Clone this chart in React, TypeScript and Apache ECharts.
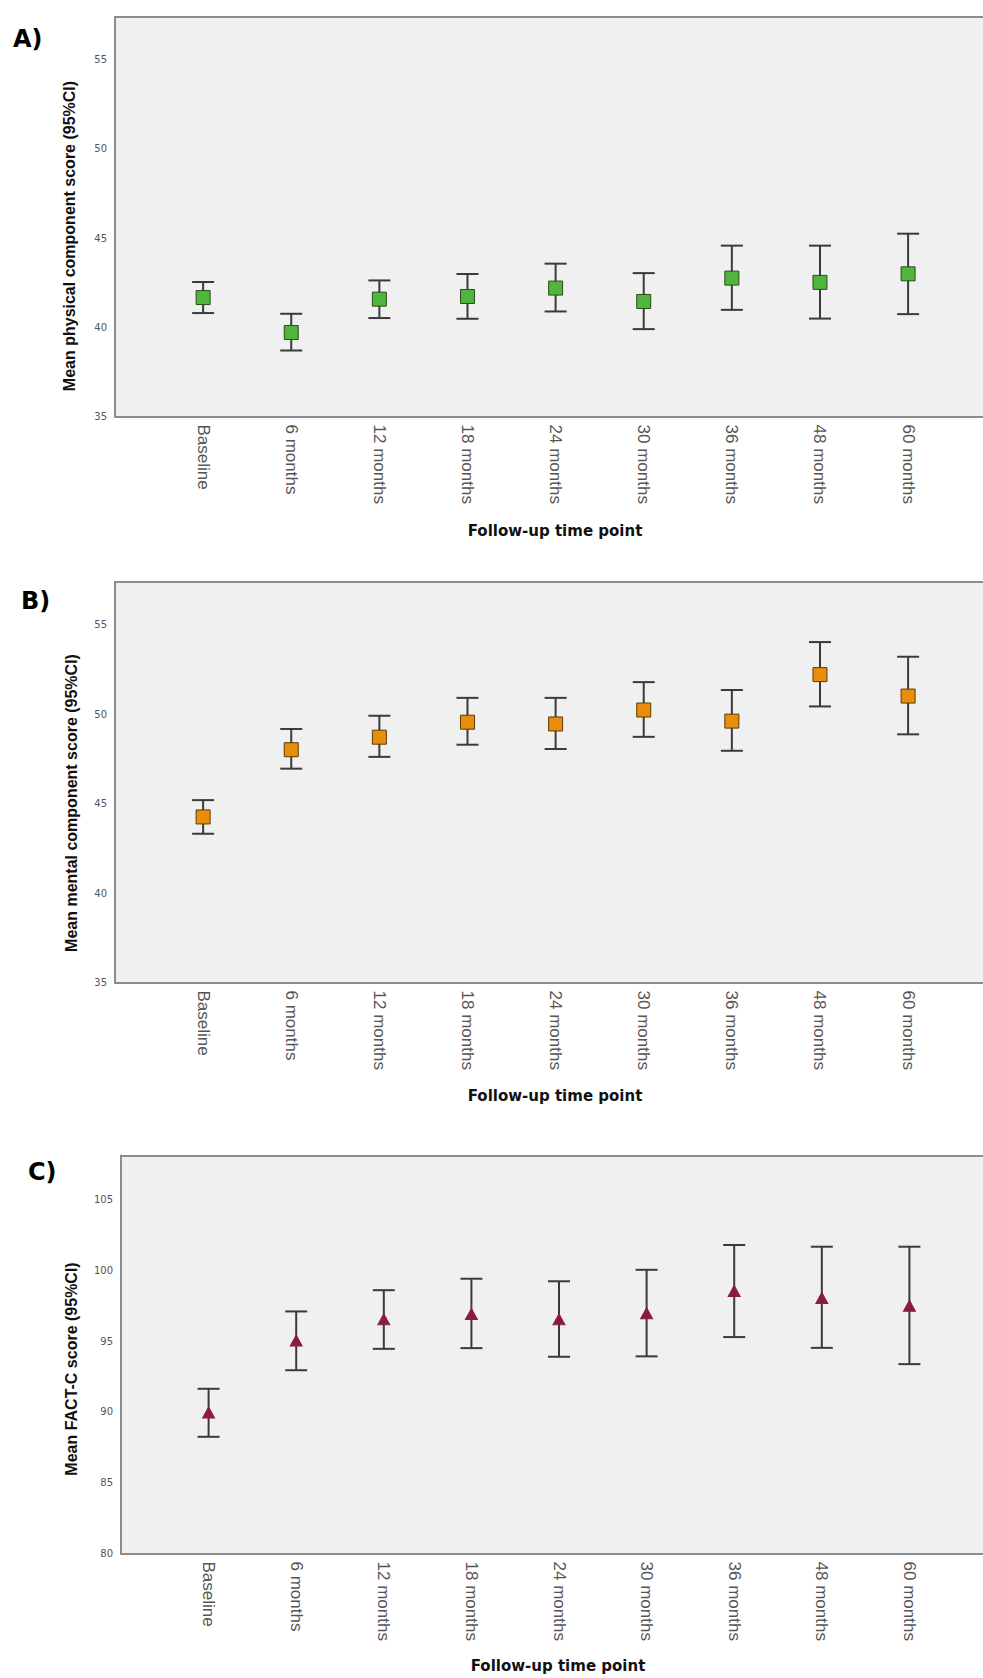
import React, { useEffect, useRef } from "react";
import * as echarts from "echarts";

const categories = ["Baseline", "6 months", "12 months", "18 months", "24 months", "30 months", "36 months", "48 months", "60 months"];

const pcsMean = [41.67, 39.71, 41.58, 41.73, 42.2, 41.45, 42.76, 42.52, 43.0];
const pcsLow = [40.8, 38.7, 40.52, 40.48, 40.89, 39.9, 40.98, 40.49, 40.74];
const pcsHigh = [42.54, 40.76, 42.63, 42.99, 43.57, 43.04, 44.58, 44.58, 45.25];

const mcsMean = [44.26, 48.02, 48.72, 49.56, 49.46, 50.24, 49.62, 52.22, 51.02];
const mcsLow = [43.32, 46.96, 47.62, 48.3, 48.06, 48.74, 47.96, 50.44, 48.88];
const mcsHigh = [45.2, 49.18, 49.92, 50.92, 50.92, 51.8, 51.36, 54.04, 53.22];

const factMean = [89.95, 95.03, 96.53, 96.91, 96.53, 96.96, 98.54, 98.04, 97.49];
const factLow = [88.24, 92.94, 94.45, 94.5, 93.89, 93.92, 95.28, 94.52, 93.37];
const factHigh = [91.63, 97.09, 98.59, 99.4, 99.22, 100.03, 101.78, 101.66, 101.66];

const yTitles = ["Mean physical component score (95%CI)", "Mean mental component score (95%CI)", "Mean FACT-C score (95%CI)"];
const panelLabels = ["A)", "B)", "C)"];
const xTitle = "Follow-up time point";

export default function App() {
  const ref = useRef<HTMLDivElement>(null);
  useEffect(() => {
    if (!ref.current) return;
    const chart = echarts.init(ref.current, null, { renderer: "svg" });

    const panels = [
      { left: 115, top: 17, height: 399.5, xmax: 9.85, ymin: 35, ymax: 57.4, mean: pcsMean, low: pcsLow, high: pcsHigh, symbol: "rect", size: [14, 14], color: "#4fb53c", border: "#2b4d1c" },
      { left: 115, top: 582, height: 400.5, xmax: 9.85, ymin: 35, ymax: 57.4, mean: mcsMean, low: mcsLow, high: mcsHigh, symbol: "rect", size: [14, 14], color: "#e88d0c", border: "#5c3b00" },
      { left: 121, top: 1155.5, height: 398, xmax: 9.84, ymin: 80, ymax: 108.1, mean: factMean, low: factLow, high: factHigh, symbol: "triangle", size: [12, 11], color: "#8c1c3c", border: "#8c1c3c" },
    ];

    const axisLineStyle = { color: "#8c8c8c", width: 2 };
    const grid: any[] = [];
    const xAxis: any[] = [];
    const yAxis: any[] = [];
    const series: any[] = [];

    panels.forEach((p, g) => {
      grid.push({ left: p.left, top: p.top, height: p.height, right: 0, show: true, backgroundColor: "#f0f0f0", borderWidth: 0 });
      xAxis.push({
        gridIndex: g, type: "value", position: "bottom", min: 0, max: p.xmax, interval: 1,
        axisLine: { show: true, lineStyle: axisLineStyle }, axisTick: { show: false }, splitLine: { show: false },
        axisLabel: {
          rotate: -90, fontSize: 17, color: "#555", fontFamily: "Liberation Sans", margin: 8,
          formatter: (v: number) => (Number.isInteger(v) && v >= 1 && v <= categories.length ? categories[v - 1] : ""),
        },
      });
      xAxis.push({
        gridIndex: g, type: "value", position: "top", min: 0, max: p.xmax,
        axisLine: { show: true, lineStyle: axisLineStyle }, axisTick: { show: false }, splitLine: { show: false }, axisLabel: { show: false },
      });
      yAxis.push({
        gridIndex: g, type: "value", min: p.ymin, max: p.ymax, interval: 5,
        axisLine: { show: true, lineStyle: axisLineStyle }, axisTick: { show: false }, splitLine: { show: false },
        axisLabel: {
          fontSize: 10, color: "#555", fontFamily: "DejaVu Sans", margin: 8,
          formatter: (v: number) => (Math.abs(v % 5) < 1e-6 ? String(v) : ""),
        },
      });
      series.push({
        type: "custom", xAxisIndex: g * 2, yAxisIndex: g, coordinateSystem: "cartesian2d", z: 2,
        data: categories.map((_, i) => [i + 1, p.low[i], p.high[i]]),
        encode: { x: 0, y: [1, 2] },
        renderItem: (params: any, api: any) => {
          const x = api.value(0);
          const top = api.coord([x, api.value(2)]);
          const bot = api.coord([x, api.value(1)]);
          const hw = 11;
          const style = { stroke: "#3a3a3a", lineWidth: 2 };
          return {
            type: "group",
            children: [
              { type: "line", shape: { x1: top[0], y1: top[1], x2: bot[0], y2: bot[1] }, style },
              { type: "line", shape: { x1: top[0] - hw, y1: top[1], x2: top[0] + hw, y2: top[1] }, style },
              { type: "line", shape: { x1: bot[0] - hw, y1: bot[1], x2: bot[0] + hw, y2: bot[1] }, style },
            ],
          };
        },
      });
      series.push({
        type: "scatter", xAxisIndex: g * 2, yAxisIndex: g, z: 3,
        symbol: p.symbol, symbolSize: p.size,
        itemStyle: { color: p.color, borderColor: p.border, borderWidth: 1, opacity: 1 },
        data: categories.map((_, i) => [i + 1, p.mean[i]]),
      });
    });

    const yTitlePos = [[69, 236], [71, 803], [71, 1369]];
    const xTitlePos = [[555, 531], [555, 1096], [558, 1666]];
    const labelPos = [[13, 39], [21, 601], [28, 1172]];
    const graphic: any[] = [];
    panels.forEach((_, g) => {
      graphic.push({
        type: "text", x: yTitlePos[g][0], y: yTitlePos[g][1], rotation: Math.PI / 2,
        style: { text: yTitles[g], font: 'bold 16px "Liberation Sans"', fill: "#111", align: "center", verticalAlign: "middle" },
      });
      graphic.push({
        type: "text", x: xTitlePos[g][0], y: xTitlePos[g][1],
        style: { text: xTitle, font: 'bold 15px "DejaVu Sans"', fill: "#111", align: "center", verticalAlign: "middle" },
      });
      graphic.push({
        type: "text", x: labelPos[g][0], y: labelPos[g][1],
        style: { text: panelLabels[g], font: 'bold 24px "DejaVu Sans"', fill: "#000", align: "left", verticalAlign: "middle" },
      });
    });

    chart.setOption({ animation: false, backgroundColor: "#ffffff", grid, xAxis, yAxis, series, graphic });
    return () => chart.dispose();
  }, []);
  return <div ref={ref} style={{ position: "absolute", left: 0, top: 0, width: 983, height: 1678 }} />;
}
